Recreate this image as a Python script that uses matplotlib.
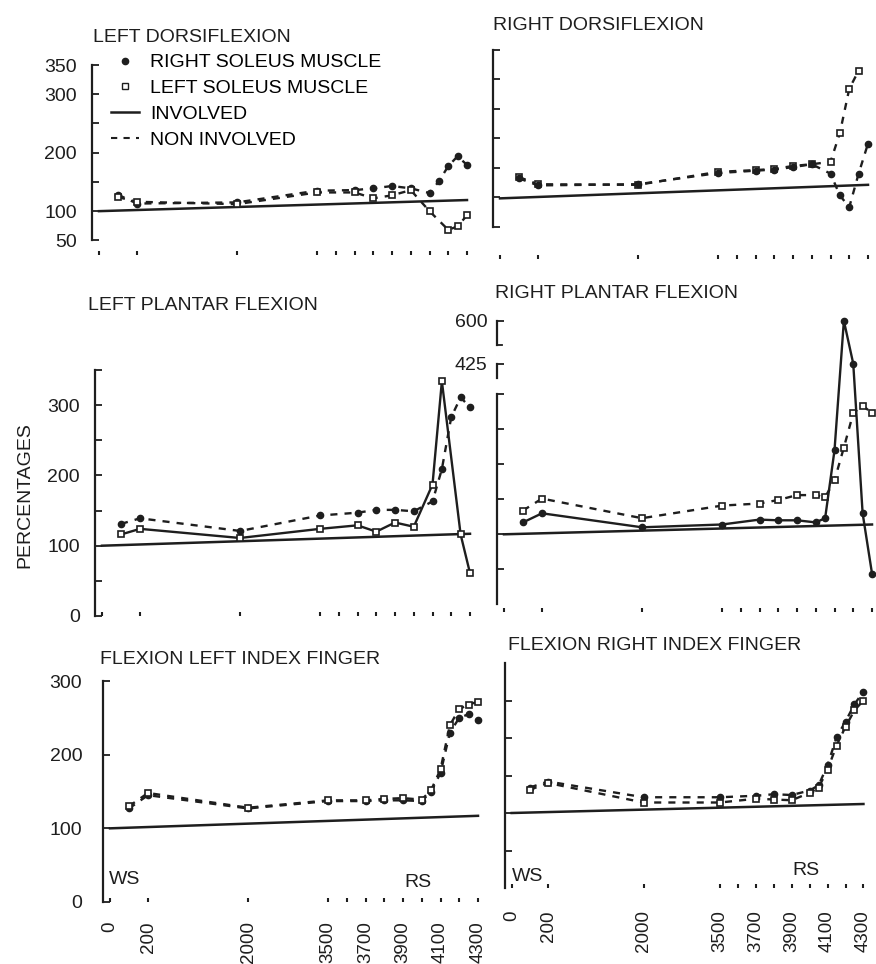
import numpy as np
import matplotlib.pyplot as plt
from matplotlib.lines import Line2D

plt.rcParams['font.family'] = ['Liberation Sans', 'DejaVu Sans']

W, H = 876, 964
INK = '#1e1e1e'

# altitude (m) ticks and the piecewise x scale of the original
alt_ticks = [0, 200, 2000, 3500, 3700, 3900, 4100, 4300]
alt_minor = [3600, 3800, 4000, 4200]
ALT = [-37, 0, 200, 2000, 3500, 4300, 4353]
POS = [0, 7, 45, 145, 225, 375, 385]

base_x = [0, 4300]

# left dorsiflexion
ld_x_r = [100, 200, 2000, 3500, 3700, 3800, 3900, 4000, 4100, 4150, 4200, 4250, 4300]
ld_y_r = [128, 113, 115, 135, 136, 139, 143, 139, 131, 151, 177, 194, 179]
ld_x_l = [100, 200, 2000, 3500, 3700, 3800, 3900, 4000, 4100, 4200, 4250, 4300]
ld_y_l = [124, 116, 112, 132, 132, 122, 127, 136, 100, 68, 74, 93]
ld_base = [100, 119]

# right dorsiflexion
rd_x_l = [100, 200, 2000, 3500, 3700, 3800, 3900, 4000, 4100, 4150, 4200, 4250]
rd_y_l = [134, 122, 121, 143, 146, 148, 153, 156, 160, 209, 284, 315]
rd_x_r = [100, 200, 2000, 3500, 3700, 3800, 3900, 4000, 4100, 4150, 4200, 4250, 4300]
rd_y_r = [132, 120, 122, 141, 145, 147, 151, 156, 140, 103, 83, 140, 191]
rd_base = [98, 121]

# left plantar flexion
lp_x_inv = [100, 200, 2000, 3500, 3700, 3800, 3900, 4000, 4100, 4150, 4250, 4300]
lp_y_inv = [116, 124, 111, 124, 129, 120, 133, 127, 187, 334, 116, 61]
lp_x_non = [100, 200, 2000, 3500, 3700, 3800, 3900, 4000, 4100, 4150, 4200, 4250, 4300]
lp_y_non = [131, 139, 121, 143, 147, 151, 151, 149, 163, 209, 283, 311, 297]
lp_base = [100, 117]

# right plantar flexion
rp_x = [100, 200, 2000, 3500, 3700, 3800, 3900, 4000, 4050, 4100, 4150, 4200, 4250, 4300]
rp_y_inv = [117, 130, 110, 114, 121, 120, 120, 117, 123, 220, 600, 425, 130, 44]
rp_y_non = [134, 151, 123, 141, 144, 149, 156, 156, 153, 177, 224, 273, 284, 273]
rp_base = [100, 114]

# flexion index fingers
fi_x = [100, 200, 2000, 3500, 3700, 3800, 3900, 4000, 4050, 4100, 4150, 4200, 4250, 4300]
li_y_l = [130, 148, 128, 138, 138, 140, 141, 139, 152, 180, 240, 262, 268, 272]
li_y_r = [127, 145, 127, 137, 137, 138, 138, 137, 150, 175, 230, 250, 255, 247]
li_base = [100, 117]
ri_y_r = [134, 142, 121, 121, 123, 125, 124, 130, 137, 164, 201, 222, 245, 262]
ri_y_l = [131, 140, 114, 114, 119, 118, 117, 127, 134, 158, 190, 215, 237, 250]
ri_base = [100, 112]


def xf(a):
    return np.interp(a, ALT, POS)


def xi(p):
    return np.interp(p, POS, ALT)


def yf(v):
    v = np.asarray(v, dtype=float)
    return np.where(v <= 300, v, 300 + (v - 300) * 0.35)


def yi(u):
    u = np.asarray(u, dtype=float)
    return np.where(u <= 300, u, 300 + (u - 300) / 0.35)


def make_ax(x0, ytop, ybot, width=385):
    ax = fig.add_axes([x0 / W, 1 - ybot / H, width / W, (ybot - ytop) / H])
    ax.set_xscale('function', functions=(xf, xi))
    ax.set_xlim(ALT[0], ALT[-1])
    for s in ['top', 'right', 'bottom']:
        ax.spines[s].set_visible(False)
    ax.spines['left'].set_linewidth(1.6)
    ax.spines['left'].set_color(INK)
    ax.set_xticks(alt_ticks)
    ax.set_xticks(alt_minor, minor=True)
    ax.set_xticklabels([])
    ax.tick_params(axis='x', which='both', direction='in', length=3, width=1.5, colors=INK)
    ax.tick_params(axis='y', direction='in', length=5, width=1.3, colors=INK,
                   labelsize=14, pad=11)
    ax.patch.set_alpha(0)
    return ax


def series(ax, x, y, ls, filled):
    if filled:
        ax.plot(x, y, ls=ls, lw=1.7, color=INK, marker='o', ms=4.5,
                mfc=INK, mec=INK, clip_on=False)
    else:
        ax.plot(x, y, ls=ls, lw=1.7, color=INK, marker='s', ms=4,
                mfc='white', mec=INK, mew=1.2, clip_on=False)


def baseline(ax, yb):
    ax.plot(base_x, yb, color=INK, lw=1.8, clip_on=False)


DASH = (0, (3, 3))

fig = plt.figure(figsize=(W / 100, H / 100), dpi=100)

# ---- left dorsiflexion
ax = make_ax(92, 65, 255)
ax.set_ylim(25, 350)
ax.spines['left'].set_bounds(50, 350)
ax.set_yticks(range(50, 351, 50))
ax.set_yticklabels(['50', '100', '', '200', '', '300', '350'])
baseline(ax, ld_base)
series(ax, ld_x_r, ld_y_r, DASH, True)
series(ax, ld_x_l, ld_y_l, DASH, False)
handles = [Line2D([], [], ls='none', marker='o', ms=4.5, color=INK),
           Line2D([], [], ls='none', marker='s', ms=4, mfc='white', mec=INK),
           Line2D([], [], ls='-', lw=1.8, color=INK),
           Line2D([], [], ls=DASH, lw=1.5, color=INK)]
ax.legend(handles, ['RIGHT SOLEUS MUSCLE', 'LEFT SOLEUS MUSCLE', 'INVOLVED', 'NON INVOLVED'],
          loc='upper left', bbox_to_anchor=(0.03, 1.1), frameon=False, fontsize=14,
          labelspacing=0.42, handlelength=1.4, handletextpad=0.6, borderaxespad=0)

# ---- right dorsiflexion
ax = make_ax(493, 50, 259)
ax.set_ylim(-5, 350)
ax.spines['left'].set_bounds(50, 350)
ax.set_yticks(range(50, 351, 50))
ax.set_yticklabels([])
baseline(ax, rd_base)
series(ax, rd_x_l, rd_y_l, DASH, False)
series(ax, rd_x_r, rd_y_r, DASH, True)

# ---- left plantar flexion
ax = make_ax(95, 370, 616)
ax.set_ylim(0, 350)
ax.set_yticks(range(0, 351, 50))
ax.set_yticklabels(['0', '', '100', '', '200', '', '300', ''])
baseline(ax, lp_base)
series(ax, lp_x_non, lp_y_non, DASH, True)
series(ax, lp_x_inv, lp_y_inv, '-', False)

# ---- right plantar flexion (broken upper axis)
ax = make_ax(497, 311, 612)
ax.set_yscale('function', functions=(yf, yi))
ax.set_ylim(-11, 640)
ax.spines['left'].set_bounds(0, 300)
ax.set_yticks([50, 100, 150, 200, 250, 300, 425, 600])
ax.set_yticklabels(['', '', '', '', '', '', '425', '600'])
ax.tick_params(axis='y', pad=7)
yaxis_tr = ax.get_yaxis_transform()
ax.plot([0, 0], [600, 500], color=INK, lw=1.6, transform=yaxis_tr, clip_on=False)
ax.plot([0, 0.013], [500, 500], color=INK, lw=1.3, transform=yaxis_tr, clip_on=False)
ax.plot([0, 0], [425, 366], color=INK, lw=1.6, transform=yaxis_tr, clip_on=False)
baseline(ax, rp_base)
series(ax, rp_x, rp_y_non, DASH, False)
series(ax, rp_x, rp_y_inv, '-', True)

# ---- flexion left index finger
ax = make_ax(103, 681, 902)
ax.set_ylim(0, 300)
ax.set_yticks([0, 100, 200, 300])
ax.tick_params(axis='y', pad=15)
ax.set_xticklabels([str(t) for t in alt_ticks], rotation=90, fontsize=13.5)
ax.tick_params(axis='x', which='major', pad=14)
baseline(ax, li_base)
series(ax, fi_x, li_y_r, DASH, True)
series(ax, fi_x, li_y_l, DASH, False)
ax.text(75, 30, 'WS', fontsize=14, ha='center', va='center', color=INK)
ax.text(3980, 26, 'RS', fontsize=14, ha='center', va='center', color=INK)

# ---- flexion right index finger (squeezed a little so 4300 stays on the page)
ax = make_ax(505, 663, 888, width=368)
ax.set_ylim(0, 300)
ax.set_yticks([50, 100, 150, 200, 250])
ax.set_yticklabels([])
ax.set_xticklabels([str(t) for t in alt_ticks], rotation=90, fontsize=13.5)
ax.tick_params(axis='x', which='major', pad=16)
baseline(ax, ri_base)
series(ax, fi_x, ri_y_r, DASH, True)
series(ax, fi_x, ri_y_l, DASH, False)
ax.text(90, 15, 'WS', fontsize=14, ha='center', va='center', color=INK)
ax.text(3980, 23, 'RS', fontsize=14, ha='center', va='center', color=INK)

# titles and common label
titles = [('LEFT DORSIFLEXION', 93, 38), ('RIGHT DORSIFLEXION', 493, 25),
          ('LEFT PLANTAR FLEXION', 88, 305), ('RIGHT PLANTAR FLEXION', 495, 293),
          ('FLEXION LEFT INDEX FINGER', 100, 660), ('FLEXION RIGHT INDEX FINGER', 508, 645)]
for txt, x, y in titles:
    fig.text(x / W, 1 - y / H, txt, fontsize=14, ha='left', va='center', color=INK)
fig.text(25 / W, 1 - 495 / H, 'PERCENTAGES', rotation=90, fontsize=14,
         ha='center', va='center', color=INK)

fig.savefig('out.png', dpi=100)
